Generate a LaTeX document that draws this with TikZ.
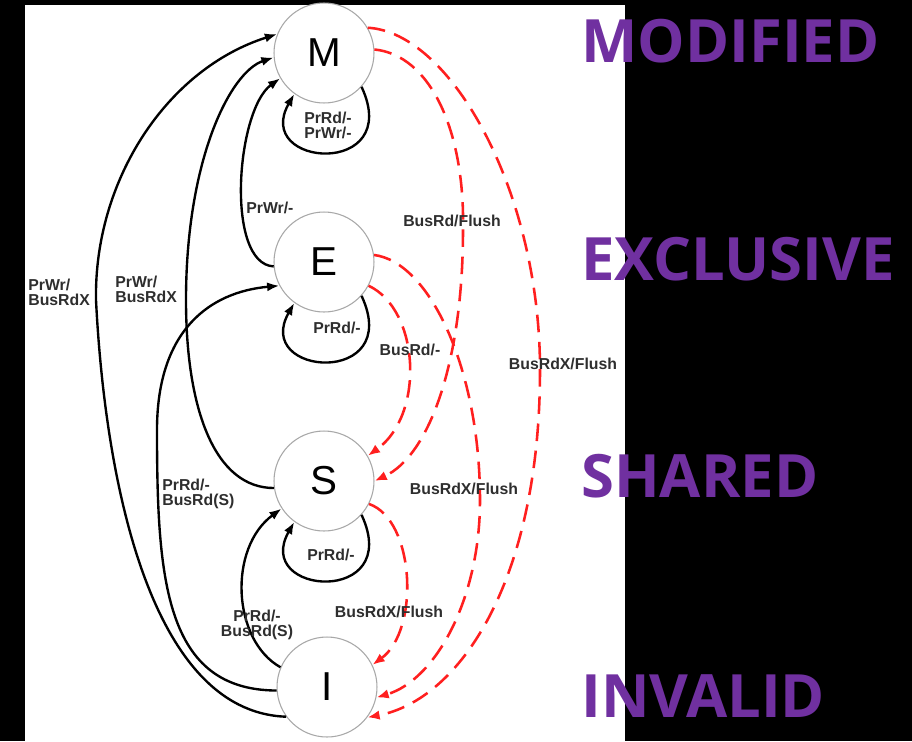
\documentclass[tikz,border=0pt]{standalone}
\usepackage{fontspec}
\setmainfont{Liberation Sans}
\newfontfamily\bannerfont{Open Sans}
\usetikzlibrary{arrows.meta,calc}
\definecolor{mesi}{HTML}{7030A0}
\definecolor{snoopred}{HTML}{FF1F1F}
\definecolor{ring}{HTML}{A8A8A8}
\definecolor{ink}{HTML}{2E2E2E}

\begin{document}
\begin{tikzpicture}[
  x=0.02cm,y=-0.02cm,
  state/.style={circle,draw=ring,line width=0.6pt,fill=white,minimum size=2cm,inner sep=0pt,font=\fontsize{23}{23}\selectfont},
  arrow/.style={-{Latex[length=7pt,width=5.2pt]},line width=1.35pt,draw=black},
  snoop/.style={-{Latex[length=7pt,width=5.4pt]},line width=1.45pt,draw=snoopred,dash pattern=on 10pt off 5.5pt},
  lab/.style={font=\fontsize{9}{8.5}\selectfont\bfseries,text=ink,align=center,inner sep=0pt},
  banner/.style={font=\bannerfont\fontsize{34}{34}\selectfont\bfseries,text=mesi,anchor=base west,inner sep=0pt}
]
  \fill[black] (0,0) rectangle (912,741);
  \fill[white] (25,5) rectangle (625,741);

  \node[state] (M) at (324,53) {M};
  \node[state] (E) at (324,262) {E};
  \node[state] (S) at (324,481) {S};
  \node[state] (I) at (327,687) {I};

  \draw[arrow] (M.318) .. controls ($(M)+(80,125)$) and ($(M)+(-72,115)$) .. (M.234);
  \draw[arrow] (E.318) .. controls ($(E)+(80,125)$) and ($(E)+(-72,115)$) .. (E.234);
  \draw[arrow] (S.318) .. controls ($(S)+(80,125)$) and ($(S)+(-72,115)$) .. (S.234);

  \draw[arrow] (I.216) .. controls (150,712) and (105,480) .. (96,300) .. controls (94,180) and (167,69) .. (M.158);
  \draw[arrow] (S.188) .. controls (215,488) and (186,410) .. (186,300) .. controls (186,160) and (230,72) .. (M.185);
  \draw[arrow] (E.185) .. controls (225,264) and (236,110) .. (M.210);
  \draw[arrow] (I.184) .. controls (165,690) and (157,580) .. (157,430) .. controls (157,330) and (210,292) .. (E.208);
  \draw[arrow] (I.157) .. controls (232,640) and (228,548) .. (S.213);

  \draw[snoop] (M.30) .. controls (450,32) and (540,190) .. (540,370) .. controls (540,580) and (460,700) .. (I.323);
  \draw[snoop] (M.4) .. controls (430,55) and (465,130) .. (463,230) .. controls (463,360) and (430,455) .. (S.0);
  \draw[snoop] (E.8) .. controls (430,262) and (480,370) .. (480,500) .. controls (480,600) and (435,680) .. (I.348);
  \draw[snoop] (E.332) .. controls (420,310) and (425,415) .. (S.30);
  \draw[snoop] (S.333) .. controls (415,520) and (420,630) .. (I.26);

  \node[lab] (mloop) at (328,125) {PrRd/-\\PrWr/-};
  \node[lab] (eloop) at (337,328) {PrRd/-};
  \node[lab] (sloop) at (331,555) {PrRd/-};
  \node[lab,anchor=west] (em) at (246,208) {PrWr/-};
  \node[lab,anchor=west,align=left] (im) at (28,292) {PrWr/\\BusRdX};
  \node[lab,anchor=west,align=left] (sm) at (115,289) {PrWr/\\BusRdX};
  \node[lab,anchor=west,align=left] (ie) at (162,494) {PrRd/-\\BusRd(S)};
  \node[lab] (is) at (257,625) {PrRd/-\\BusRd(S)};
  \node[lab] (msflush) at (452,221) {BusRd/Flush};
  \node[lab] (miflush) at (563,364) {BusRdX/Flush};
  \node[lab] (es) at (410,350) {BusRd/-};
  \node[lab] (eiflush) at (464,489) {BusRdX/Flush};
  \node[lab] (siflush) at (389,612) {BusRdX/Flush};

  \node[banner] (modified) at (581,62) {MODIFIED};
  \node[banner] (exclusive) at (581,280) {EXCLUSIVE};
  \node[banner] (shared) at (581,497) {SHARED};
  \node[banner] (invalid) at (581,717) {INVALID};
\end{tikzpicture}
\end{document}
